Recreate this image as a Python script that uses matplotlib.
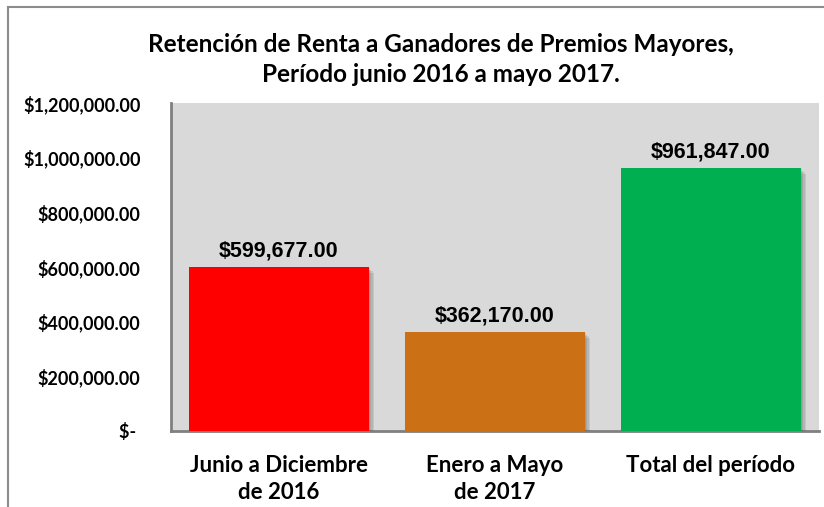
import matplotlib
matplotlib.use("Agg")
import matplotlib.pyplot as plt
import matplotlib.patheffects as pe
from matplotlib.lines import Line2D

# data
categories = ["Junio a Diciembre\nde 2016", "Enero a Mayo\nde 2017", "Total del período"]
values = [599677.00, 362170.00, 961847.00]
bar_colors = ["#FF0000", "#CC7016", "#00B050"]
yticks = [0, 200000, 400000, 600000, 800000, 1000000, 1200000]
ytick_labels = ["$- ", "$200,000.00", "$400,000.00", "$600,000.00",
                "$800,000.00", "$1,000,000.00", "$1,200,000.00"]
title = "Retención de Renta a Ganadores de Premios Mayores,\nPeríodo junio 2016 a mayo 2017."

plt.rcParams['font.family'] = ['Lato', 'DejaVu Sans']

fig = plt.figure(figsize=(8.24, 5.07), dpi=100)
ax = fig.add_axes([171/824, 1-431/507, (819-171)/824, (431-103)/507])
ax.set_facecolor("#D9D9D9")

x = range(len(categories))
bars = ax.bar(x, values, width=0.83, color=bar_colors, zorder=3)
# soft shadow: a few faint layers
shadow = [pe.SimplePatchShadow(offset=(d, -d), shadow_rgbFace="#404040", alpha=0.12)
          for d in (1, 2, 3, 4)]
for b in bars:
    b.set_path_effects(shadow + [pe.Normal()])

for xi, v in zip(x, values):
    ax.annotate("${:,.2f}".format(v), (xi, v), xytext=(0, 4), textcoords="offset points",
                ha="center", va="bottom", fontsize=15.5, fontweight="bold",
                family="Liberation Sans", color="#000000")

ax.set_xlim(-0.5, 2.5)
ax.set_ylim(0, 1200000)
ax.set_yticks(yticks)
ax.set_yticklabels(ytick_labels, fontsize=13, fontweight="bold")
ax.set_xticks(list(x))
ax.set_xticklabels(categories, fontsize=16, fontweight="bold", linespacing=1.38)
ax.tick_params(axis="both", length=0)
ax.tick_params(axis="y", pad=22)
ax.tick_params(axis="x", pad=17)

for s in ["top", "right"]:
    ax.spines[s].set_visible(False)
for s in ["left", "bottom"]:
    ax.spines[s].set_color("#808080")
    ax.spines[s].set_linewidth(2)

fig.text(441/824, 1-59.5/507, title, ha="center", va="center", fontsize=17.5,
         fontweight="bold", linespacing=1.35)

# outer chart border
fig.add_artist(Line2D([8/824, 1], [1-7/507, 1-7/507], color="#8C8C8C", lw=1.5))
fig.add_artist(Line2D([8/824, 8/824], [0, 1-7/507], color="#8C8C8C", lw=1.5))

plt.savefig("out.png", dpi=100)
